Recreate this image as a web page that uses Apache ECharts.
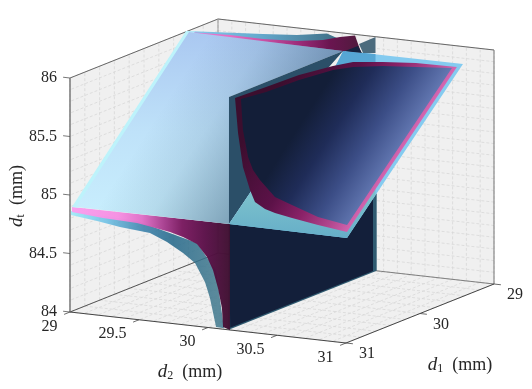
<!DOCTYPE html>
<html><head><meta charset="utf-8">
<style>html,body{margin:0;padding:0;background:#fff}#c{width:532px;height:389px}</style>
<script src="https://cdn.jsdelivr.net/npm/echarts@6/dist/echarts.min.js"></script>
</head><body><div id="c"></div>
<script>
// Axis tick values
const d1Ticks=[29,30,31];
const d2Ticks=[29,29.5,30,30.5,31];
const dtTicks=[84,84.5,85,85.5,86];
const dtLabels=['84','84.5','85','85.5','86'];
const d2Labels=['29','29.5','30','30.5','31'];
const d1Labels=['29','30','31'];
const d1Grid=[29,29.2,29.4,29.6,29.8,30,30.2,30.4,30.6,30.8,31];
const d2Grid=[29,29.1,29.2,29.3,29.4,29.5,29.6,29.7,29.8,29.9,30,30.1,30.2,30.3,30.4,30.5,30.6,30.7,30.8,30.9,31];
const dtGrid=[84,84.1,84.2,84.3,84.4,84.5,84.6,84.7,84.8,84.9,85,85.1,85.2,85.3,85.4,85.5,85.6,85.7,85.8,85.9,86];

// Surfaces: each point is [d1, d2, dt]
const backTealBand=[[29.4125,28.989,86],[29.359,29.156,86],[29.263,29.467,86],[29.189,29.673,86],[29.06,29.822,86],[29.149,29.942,86],[29.51,30.158,86],[29.545,29.06,86]];
const backMaroonBand=[[29.433,29.015,86],[29.387,29.295,86],[29.395,29.538,86],[29.347,29.759,86],[29.244,29.891,86],[29.114,29.945,86],[29.03,30.009,86],[29.448,30.276,86],[29.496,30.186,86],[29.539,29.07,86]];
const wallEdge=[[31,30.15,84],[29,30.15,84],[29,30.15,84.66],[31,30.15,84.9]];
const wallNavy=[[30.996,30.15,84.903],[29.401,30.15,84.381],[29.05,30.15,84.654],[29.05,30.15,84.012],[30.98,30.15,84.012]];
const frontTeal=[[31,29.007,84.864],[31,29.4855,84.842],[31,29.92,84.712],[31,30.058,84.495],[31,30.116,84.01],[31,30.058,84.012],[31,30.051,84.054],[31,30.014,84.254],[31,29.978,84.386],[31,29.906,84.539],[31,29.819,84.613],[31,29.703,84.691],[31,29.58,84.752],[31,29.362,84.774],[31,29.196,84.803],[31,29.007,84.83]];
const frontMaroon=[[31,29.0145,84.899],[31,30.159,84.906],[31,30.159,84],[31,30.109,84.019],[31,30.101,84.18],[31,30.072,84.347],[31,30.036,84.496],[31,29.993,84.602],[31,29.92,84.703],[31,29.819,84.75],[31,29.725,84.78],[31,29.4855,84.825],[31,29.239,84.835],[31,29.0145,84.856]];
const planeRim=[[31,29.014,84.9],[29.473,29.022,86.019],[29.46,29.08,86.02],[31,29.06,84.9]];
const planeFace=[[30.997,29.042,84.902],[29.478,29.046,86.015],[29.492,30.17,86.005],[29.968,29.599,85.656],[30.995,30.15,84.903]];
const wallWedge=[[30.996,30.15,85.989],[29.455,30.15,85.993],[30.036,30.15,85.721],[30.712,30.15,85.097],[30.996,30.15,84.903]];
const skyPlane=[[29.49,30.183,86.007],[29.488,31.037,86.008],[31.002,31.008,84.899],[30.995,30.15,84.903],[30.726,30.157,85.101],[29.612,30.183,85.917]];
const skyBehindWall=[[30.996,30.15,84.903],[30.712,30.15,85.097],[29.55,30.15,85.897],[29.455,30.15,85.993],[29.016,30.15,85.857],[29.016,30.15,84.652],[29.401,30.15,84.381]];
const ringOuter=[[29.971,29.644,85.655],[30.251,29.816,85.449],[30.522,29.997,85.251],[30.701,30.144,85.119],[30.794,30.23,85.051],[30.841,30.328,85.016],[30.865,30.413,84.999],[30.89,30.55,84.981],[30.923,30.756,84.957],[30.953,30.982,84.934],[29.518,31.009,85.986],[29.523,30.715,85.983],[29.545,30.488,85.967],[29.572,30.285,85.947],[29.623,30.167,85.909],[29.726,29.976,85.834],[29.854,29.806,85.74]];
const innerFace=[[29.973,29.688,85.653],[30.222,29.836,85.47],[30.436,29.988,85.313],[30.537,30.078,85.239],[30.611,30.168,85.185],[30.735,30.343,85.094],[30.785,30.493,85.058],[30.858,30.721,85.004],[30.896,30.952,84.976],[29.531,30.98,85.977],[29.555,30.733,85.959],[29.577,30.505,85.943],[29.613,30.307,85.917],[29.655,30.185,85.886],[29.767,29.998,85.804],[29.894,29.828,85.711]];
const wallTopPiece=[[29.239,30.15,85.999],[29.016,30.15,86.002],[29.016,30.15,85.866],[29.185,30.15,85.908]];
const wallTopNavy=[[29.428,30.15,85.986],[29.253,30.15,85.985],[29.199,30.15,85.912]];

// Projection of (d1,d2,dt) onto the picture plane of the 3-D view
function proj(p){
  const a=p[0]-29,b=p[1]-29,c=p[2]-84;
  return [218+138*b-74*a, 253+15.5*b+29.5*a-117*c];
}
function lin(x1,y1,x2,y2,stops){
  return {type:'linear',x:x1,y:y1,x2:x2,y2:y2,global:true,
    colorStops:stops.map(s=>({offset:s[0],color:s[1]}))};
}
const ringFill=lin(236,151,358,230,[[0,'#3c0e2e'],[0.4,'#5c1248'],[0.62,'#8a2268'],[0.82,'#b2488f'],[1,'#e06fbb']]);
const navyFill=lin(269,173,358,230,[[0,'#131e38'],[0.3,'#1f2c58'],[0.62,'#3c4e87'],[1,'#6c82bc']]);
const faceBase=lin(0,32,0,215,[[0,'#aac8f1'],[0.55,'#bfe2f9'],[1,'#c8eefd']]);
const faceShade=lin(164,105,266,171,[[0,'rgba(50,85,115,0)'],[0.4,'rgba(50,85,115,0.12)'],[1,'rgba(50,85,115,0.5)']]);
const frontMaroonFill=lin(70,0,230,0,[[0,'#fa9eef'],[0.3,'#f68fe2'],[0.45,'#e070c8'],[0.6,'#a23a8a'],[0.7,'#7a1a60'],[0.85,'#5a1048'],[1,'#3e0f30']]);
const frontTealFill=lin(70,0,216,0,[[0,'#9bebfa'],[0.25,'#68bee4'],[0.5,'#337da9'],[0.7,'#206588'],[1,'#40788d']]);
const backTealFill=lin(186,0,337,0,[[0,'#86cdf0'],[0.5,'#64a8cc'],[1,'#3f6f86']]);
const backMaroonFill=lin(188,0,361,0,[[0,'#ea78d0'],[0.24,'#e56fc4'],[0.43,'#cc52a6'],[0.65,'#9a2a78'],[0.82,'#6a1550'],[1,'#4e1b3c']]);
const skyWallFill=lin(0,51,0,238,[[0,'#55a6d4'],[0.1,'#58a8d4'],[0.78,'#7ac0cc'],[1,'#66aec8']]);

const layers=[
 {pts:backTealBand,fill:backTealFill},
 {pts:backMaroonBand,fill:backMaroonFill},
 {pts:wallEdge,fill:'#2f5a70'},
 {pts:wallNavy,fill:'#131f3a'},
 {pts:frontTeal,fill:frontTealFill,opacity:0.85},
 {pts:frontMaroon,fill:frontMaroonFill,opacity:0.97},
 {pts:planeRim,fill:'#bdf3fb'},
 {pts:planeFace,fill:faceBase},
 {pts:planeFace,fill:faceShade},
 {pts:wallWedge,fill:'#2b4f68'},
 {pts:skyPlane,fill:'#84cbf0'},
 {pts:skyBehindWall,fill:skyWallFill},
 {pts:ringOuter,fill:ringFill},
 {pts:innerFace,fill:navyFill},
 {pts:wallTopPiece,fill:'#4b6b7d'},
 {pts:wallTopNavy,fill:'#15233f'}
];

const WALL='#f0f0f0',GRID='#d8d8d8';
const boxFaces=[
 [[29,29,84],[31,29,84],[31,29,86],[29,29,86]],
 [[29,29,84],[29,31,84],[29,31,86],[29,29,86]],
 [[29,29,84],[31,29,84],[31,31,84],[29,31,84]]
];
const lines=[];
function L(p,q,stroke,w,dash){lines.push({p,q,stroke,w,dash});}
d1Grid.forEach(v=>{
  L([v,29,84],[v,29,86],GRID,0.8,[3,2]);
  L([v,29,84],[v,31,84],GRID,0.8,[3,2]);
});
d2Grid.forEach(v=>{
  L([29,v,84],[29,v,86],GRID,0.8,[3,2]);
  L([29,v,84],[31,v,84],GRID,0.8,[3,2]);
});
dtGrid.forEach(v=>{
  L([29,29,v],[31,29,v],GRID,0.8,[3,2]);
  L([29,29,v],[29,31,v],GRID,0.8,[3,2]);
});
L([29,29,84],[31,29,84],'#444',0.9);
L([29,29,84],[29,31,84],'#666',0.8);
L([31,29,86],[29,29,86],'#666',1);
L([29,29,86],[29,31,86],'#666',1);
L([29,29,84],[29,29,86],'#999',1);
L([29,31,84],[29,31,86],'#777',1);
L([31,29,84],[31,29,86],'#808080',1.6);
L([31,29,84],[31,31,84],'#444',1);
L([31,31,84],[29,31,84],'#444',1);
d2Ticks.forEach(v=>L([31,v,84],[31.08,v,84],'#444',0.8));
d1Ticks.forEach(v=>L([v,31,84],[v,31.05,84],'#444',0.8));
dtTicks.forEach(v=>L([31,29,v],[31,28.95,v],'#555',0.8));

const FONT='"Liberation Serif","DejaVu Serif",serif';
const texts=[];
dtTicks.forEach((v,i)=>texts.push({at:[31,29,v],dx:-13,dy:0,text:dtLabels[i],align:'right'}));
d2Ticks.forEach((v,i)=>texts.push({at:[31,v,84],dx:-12.5,dy:14.5,text:d2Labels[i],align:'right'}));
d1Ticks.forEach((v,i)=>texts.push({at:[v,31,84],dx:13,dy:11,text:d1Labels[i],align:'left'}));

const rich={
  i:{font:'italic 19px '+FONT,fill:'#262626'},
  s:{font:'12px '+FONT,fill:'#262626',padding:[8,0,0,0]},
  n:{font:'18px '+FONT,fill:'#262626'}
};
const titles=[
 {x:190,y:372,text:'{i|d}{s|2}{n|  (mm)}',rot:0},
 {x:460,y:365,text:'{i|d}{s|1}{n|  (mm)}',rot:0},
 {x:17,y:196,text:'{i|d}{s|t}{n|  (mm)}',rot:Math.PI/2}
];

const option={
 animation:false,
 grid:{left:0,top:0,right:0,bottom:0},
 xAxis:{type:'value',min:0,max:532,show:false},
 yAxis:{type:'value',min:0,max:389,inverse:true,show:false},
 series:[
  {type:'custom',coordinateSystem:'cartesian2d',silent:true,clip:false,z:1,
   data:boxFaces.map((_,i)=>[i]),
   renderItem:(pa,api)=>{
     const pts=boxFaces[api.value(0)].map(p=>api.coord(proj(p)));
     return {type:'polygon',shape:{points:pts},style:{fill:WALL,stroke:WALL,lineWidth:0.5}};
   }},
  {type:'custom',coordinateSystem:'cartesian2d',silent:true,clip:false,z:2,
   data:lines.map((_,i)=>[i]),
   renderItem:(pa,api)=>{
     const l=lines[api.value(0)],a=api.coord(proj(l.p)),b=api.coord(proj(l.q));
     return {type:'line',shape:{x1:a[0],y1:a[1],x2:b[0],y2:b[1]},
       style:{stroke:l.stroke,lineWidth:l.w,lineDash:l.dash||null}};
   }},
  {type:'custom',coordinateSystem:'cartesian2d',silent:true,clip:false,z:3,
   data:layers.map((_,i)=>[i]),
   renderItem:(pa,api)=>{
     const l=layers[api.value(0)];
     const pts=l.pts.map(p=>api.coord(proj(p)));
     return {type:'polygon',shape:{points:pts},style:{fill:l.fill,opacity:l.opacity==null?1:l.opacity}};
   }},
  {type:'custom',coordinateSystem:'cartesian2d',silent:true,clip:false,z:4,
   data:texts.map((_,i)=>[i]),
   renderItem:(pa,api)=>{
     const t=texts[api.value(0)],c=api.coord(proj(t.at));
     return {type:'text',style:{x:c[0]+t.dx,y:c[1]+t.dy,text:t.text,fill:'#262626',
       font:'16px '+FONT,align:t.align,verticalAlign:'middle'}};
   }},
  {type:'custom',coordinateSystem:'cartesian2d',silent:true,clip:false,z:4,
   data:titles.map((_,i)=>[i]),
   renderItem:(pa,api)=>{
     const t=titles[api.value(0)],c=api.coord([t.x,t.y]);
     return {type:'text',x:c[0],y:c[1],rotation:t.rot,
       style:{x:0,y:0,text:t.text,rich:rich,align:'center',verticalAlign:'middle'}};
   }}
 ]
};
const chart=echarts.init(document.getElementById('c'),null,{renderer:'canvas'});
chart.setOption(option);
</script></body></html>
